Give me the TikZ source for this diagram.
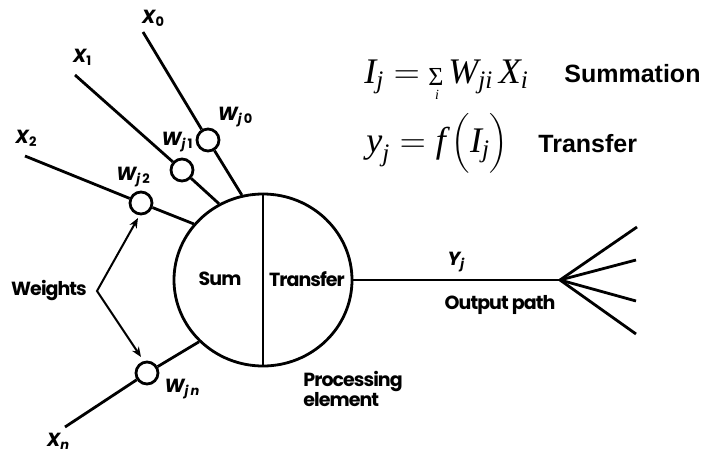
\RequirePackage{fix-cm}
\documentclass[tikz,border=0pt]{standalone}
\usepackage{amsmath}
\usepackage{graphicx}
\usepackage{fontspec}
\newfontfamily\pop{Poppins}[LetterSpace=-5]
\newfontfamily\tms{Liberation Serif}
\newfontfamily\arl{Liberation Sans}
\usetikzlibrary{shapes.geometric,arrows.meta}
\newcommand{\xlab}[1]{{\itshape X}\raisebox{-3pt}{\fontsize{13}{13}\selectfont #1}}
\newcommand{\wlab}[1]{{\itshape W}\raisebox{-3pt}{\fontsize{13}{13}\selectfont\itshape j\,\upshape #1}}
\begin{document}
\begin{tikzpicture}[x=1pt,y=-1pt,line width=2.8pt,
  wt/.style={circle,draw,minimum size=22pt,inner sep=0pt,fill=white},
  lbl/.style={font=\pop\bfseries\fontsize{19}{20}\selectfont,inner sep=0pt},
  sml/.style={font=\pop\bfseries\fontsize{19}{20}\selectfont,inner sep=0pt},
  eqn/.style={font=\tms\fontsize{36}{40}\selectfont,inner sep=0pt,anchor=base west},
  arr/.style={line width=2pt,{Stealth[length=10pt,width=8pt]}-{Stealth[length=10pt,width=8pt]}}]
\useasboundingbox (0,0) rectangle (701,453);
\fill[white] (0,0) rectangle (701,453);

% processing element
\node[ellipse,draw,minimum width=178pt,minimum height=172pt,inner sep=0pt] (pe) at (263,280) {};
\draw (pe.north) -- (pe.south);

% line start coordinates
\coordinate (x0s) at (143,32);
\coordinate (x1s) at (75,75);
\coordinate (x2s) at (25,156);
\coordinate (xns) at (65,427);

% weight circles
\node[wt] (w0) at (208,140) {};
\node[wt] (w1) at (182,170) {};
\node[wt] (w2) at (141,203) {};
\node[wt] (wn) at (147,373) {};

\draw (x0s) -- (w0) -- (pe.104);
\draw (x1s) -- (w1) -- (pe.120);
\draw (x2s) -- (w2) -- (pe.141);
\draw (xns) -- (wn) -- (pe.224);

% input labels
\node[sml] (lx0) at (153,18) {\xlab{0}};
\node[sml] (lx1) at (82,57) {\xlab{1}};
\node[sml] (lx2) at (26,138) {\xlab{2}};
\node[sml] (lxn) at (58,441) {\xlab{\itshape n}};

\node[sml] (lw0) at (235,117) {\wlab{0}};
\node[sml] (lw1) at (177,142) {\wlab{1}};
\node[sml] (lw2) at (133,177) {\wlab{2}};
\node[sml] (lwn) at (182,389) {\wlab{\itshape n}};

% weights arrows
\node[lbl] (wts) at (49,290) {Weights};
\coordinate (apex) at (97,291);
\coordinate (a1) at (138,218);
\coordinate (a2) at (141,357);
\draw[arr] (a1) -- (apex) -- (a2);

% inside labels
\node[lbl] (sum) at (220,279) {Sum};
\node[lbl] (tr) at (307,279) {Transfer};
\node[lbl,anchor=north west,align=left] (pel) at (302,370) {Processing\\element};

% output
\coordinate (fan) at (560,280);
\coordinate (f1) at (637,227);
\coordinate (f2) at (636,260);
\coordinate (f3) at (636,301);
\coordinate (f4) at (636,334);
\draw (pe.east) -- (fan);
\draw (fan) -- (f1);
\draw (fan) -- (f2);
\draw (fan) -- (f3);
\draw (fan) -- (f4);
\node[sml] (yj) at (456,262) {{\itshape Y}\raisebox{-3pt}{\fontsize{13}{13}\selectfont\itshape j}};
\node[lbl] (outp) at (500,305) {Output path};

% equations
\node[eqn] (eq1a) at (363,83) {$\textit{I}_{\textit{j}} =$};
\node[inner sep=0pt,anchor=base] (sig) at (436,85) {\scalebox{2.6}{\tms Σ}};
\node[inner sep=0pt,anchor=base] (sigi) at (437,99) {\scalebox{1.4}{\tms\itshape i}};
\node[eqn] (eq1b) at (447,83) {$\textit{W}_{\textit{ji}}\,\textit{X}_{\textit{i}}$};
\node[anchor=base west,inner sep=0pt] (eqs) at (563,82)
  {\arl\bfseries\fontsize{25}{28}\selectfont Summation};
\node[eqn] (eq2) at (365,152)
  {$\textit{y}_{\textit{j}} = \textit{f}\,\Big(\textit{I}_{\textit{j}}\Big)$};
\node[anchor=base west,inner sep=0pt] (eqt) at (537,152)
  {\arl\bfseries\fontsize{25}{28}\selectfont Transfer};
\end{tikzpicture}
\end{document}
